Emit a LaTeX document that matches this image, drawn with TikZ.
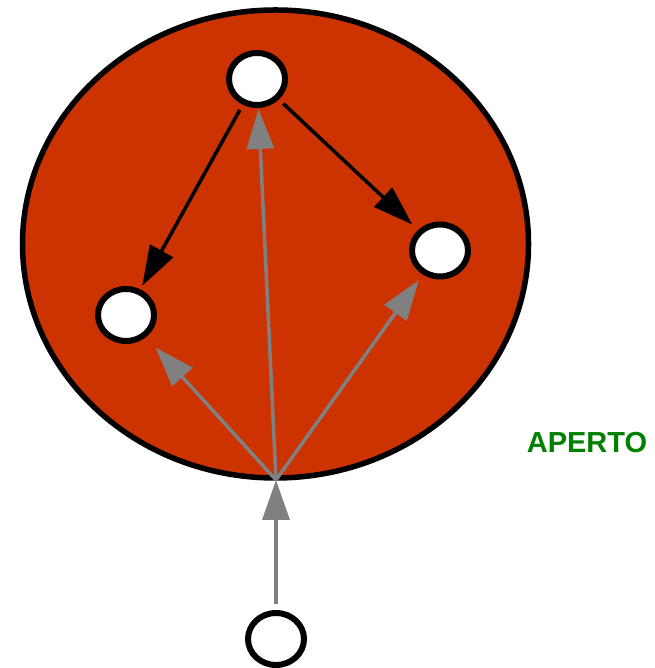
\documentclass[tikz,border=0pt]{standalone}
\usepackage{fontspec}
\setmainfont{Liberation Sans}
\usetikzlibrary{arrows.meta,shapes.geometric}
\definecolor{bigred}{RGB}{204,51,0}
\definecolor{arrgray}{RGB}{128,128,128}
\definecolor{labgreen}{RGB}{0,128,0}
\begin{document}
\begin{tikzpicture}[x=1pt,y=1pt,
  statenode/.style={ellipse,draw=black,fill=white,line width=6pt,minimum width=56pt,minimum height=52pt,inner sep=0pt},
  blackarr/.style={draw=black,line width=3.5pt,-{Triangle[length=40pt,width=26pt]}},
  grayarr/.style={draw=arrgray,line width=3.5pt,-{Triangle[length=40pt,width=27pt]}}]
\useasboundingbox (0,0) rectangle (654,668);
\draw[line width=5.5pt,fill=bigred] (275.5,424) ellipse [x radius=253, y radius=234];
\node[statenode] (top) at (257,589) {};
\node[statenode] (left) at (126,353) {};
\node[statenode] (right) at (440,417.5) {};
\node[statenode] (bottom) at (276,29) {};
\coordinate (hub) at (276,188);
\draw[grayarr,shorten >=14pt] (hub) -- (left);
\draw[grayarr,shorten >=1pt] (hub) -- (top);
\draw[grayarr,shorten >=7pt] (hub) -- (right);
\draw[grayarr,shorten <=6pt] (bottom) -- (hub);
\draw[blackarr,shorten <=6pt,shorten >=4pt] (top) -- (left);
\draw[blackarr,shorten <=6pt,shorten >=8pt] (top) -- (right);
\node[text=labgreen,font=\bfseries\fontsize{29}{31}\selectfont,inner sep=0pt] (lab) at (587,225) {APERTO};
\end{tikzpicture}
\end{document}
